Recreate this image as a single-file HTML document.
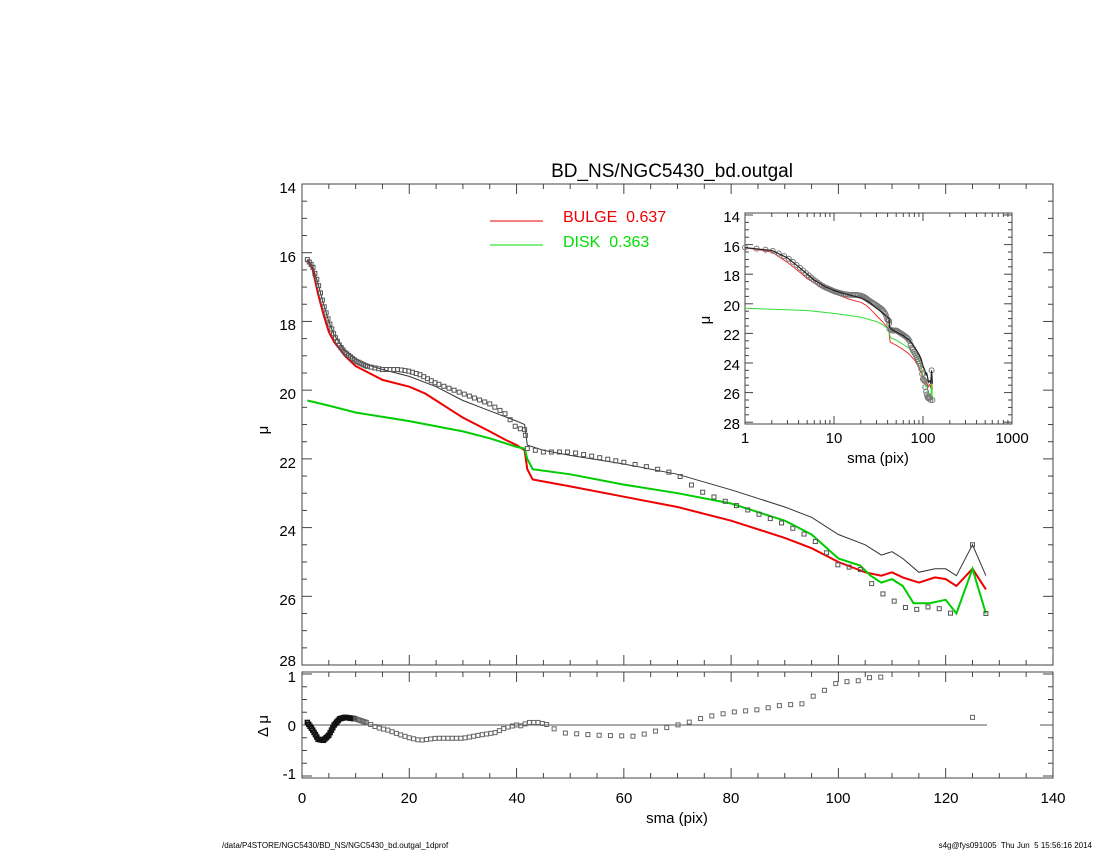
<!DOCTYPE html>
<html><head><meta charset="utf-8"><style>
body{margin:0;background:#fff;}
svg{display:block;font-family:"Liberation Sans",sans-serif;}
text{white-space:pre;}
</style></head><body>
<svg id="s" width="1100" height="850" viewBox="0 0 1100 850" xmlns="http://www.w3.org/2000/svg">
<rect width="1100" height="850" fill="#fff"/>
<text x="672" y="177" font-size="19" text-anchor="middle">BD_NS/NGC5430_bd.outgal</text>
<g id="main"></g>
<g font-size="15" text-anchor="end">
<text x="296" y="193">14</text><text x="296" y="262">16</text><text x="296" y="330">18</text>
<text x="296" y="399">20</text><text x="296" y="468">22</text><text x="296" y="536">24</text>
<text x="296" y="605">26</text><text x="296" y="666">28</text>
<text x="296" y="682">1</text><text x="296" y="731">0</text><text x="296" y="779">-1</text>
</g>
<g font-size="15" text-anchor="middle">
<text x="302" y="803">0</text><text x="409" y="803">20</text><text x="517" y="803">40</text>
<text x="624" y="803">60</text><text x="731" y="803">80</text><text x="838" y="803">100</text>
<text x="946" y="803">120</text><text x="1053" y="803">140</text>
<text x="677" y="823">sma (pix)</text>
</g>
<text x="268" y="430" font-size="15" text-anchor="middle" transform="rotate(-90 268 430)">μ</text>
<text x="268" y="726" font-size="15" text-anchor="middle" transform="rotate(-90 268 726)">Δ μ</text>
<line x1="490" y1="221" x2="543" y2="221" stroke="#e00" stroke-width="1"/>
<line x1="490" y1="245" x2="543" y2="245" stroke="#0d0" stroke-width="1"/>
<text x="563" y="222" font-size="16" fill="#e00" xml:space="preserve">BULGE  0.637</text>
<text x="563" y="247" font-size="16" fill="#0d0" xml:space="preserve">DISK  0.363</text>
<g font-size="15" text-anchor="end">
<text x="740" y="222">14</text><text x="740" y="252">16</text><text x="740" y="281">18</text>
<text x="740" y="311">20</text><text x="740" y="340">22</text><text x="740" y="370">24</text>
<text x="740" y="399">26</text><text x="740" y="429">28</text>
</g>
<g font-size="15" text-anchor="middle">
<text x="745" y="443">1</text><text x="834" y="443">10</text><text x="923" y="443">100</text><text x="1012" y="443">1000</text>
<text x="878" y="463">sma (pix)</text>
</g>
<text x="710" y="320" font-size="15" text-anchor="middle" transform="rotate(-90 710 320)">μ</text>
<text x="222" y="848" font-size="8">/data/P4STORE/NGC5430/BD_NS/NGC5430_bd.outgal_1dprof</text>
<text x="1092" y="848" font-size="8" text-anchor="end" xml:space="preserve">s4g@fys091005  Thu Jun  5 15:56:16 2014</text>
</svg>
<script>
var NS="http://www.w3.org/2000/svg",g=document.getElementById("main");
function el(t,a){var e=document.createElementNS(NS,t);for(var k in a)e.setAttribute(k,a[k]);g.appendChild(e);return e;}
var obs=[[1,16.2],[2,16.4],[3,16.9],[4,17.5],[5,18.0],[6,18.4],[7,18.7],[8,18.9],[10,19.15],[12,19.3],[15,19.4],[18,19.4],[20,19.45],[22,19.55],[25,19.8],[30,20.1],[35,20.4],[38,20.7],[40,21.1],[41.5,21.15],[42,21.7],[45,21.8],[50,21.8],[55,21.95],[60,22.1],[65,22.25],[70,22.45],[72,22.7],[75,23.0],[80,23.3],[85,23.6],[90,23.9],[95,24.3],[97,24.6],[100,25.1],[102,25.15],[104,25.2],[106,25.6],[108,25.9],[110,26.1],[112,26.3],[114,26.4],[117,26.3],[120,26.4],[122,26.6],[125,24.5],[127.5,26.5]];
var mod=[[1,16.2],[2,16.4],[3,16.9],[4,17.5],[5,18.0],[6,18.4],[8,18.85],[10,19.1],[12,19.25],[15,19.4],[20,19.6],[25,19.9],[30,20.3],[35,20.6],[40,20.9],[41.5,21.0],[42,21.6],[45,21.75],[50,21.9],[60,22.15],[70,22.45],[80,22.9],[90,23.4],[95,23.7],[100,24.2],[105,24.5],[108,24.8],[110,24.7],[112,24.9],[115,25.3],[118,25.2],[120,25.2],[122,25.4],[125,24.5],[127.5,25.4]];
var bul=[[1,16.2],[2,16.5],[3,17.2],[4,17.8],[5,18.3],[6,18.6],[8,19.0],[10,19.3],[15,19.7],[20,19.9],[23,20.1],[25,20.3],[28,20.6],[30,20.8],[35,21.2],[38,21.45],[40,21.6],[41.5,21.75],[42,22.3],[43,22.6],[50,22.8],[60,23.1],[70,23.4],[80,23.8],[90,24.3],[95,24.6],[100,25.0],[105,25.3],[108,25.4],[110,25.3],[112,25.45],[115,25.6],[118,25.45],[120,25.5],[122,25.7],[125,25.2],[127.5,25.8]];
var dsk=[[1,20.3],[5,20.45],[10,20.65],[20,20.9],[30,21.2],[35,21.4],[40,21.65],[41.5,21.7],[42,22.0],[43,22.3],[50,22.45],[60,22.75],[70,23.0],[80,23.3],[90,23.8],[95,24.2],[100,24.9],[102,25.0],[104,25.1],[106,25.4],[108,25.6],[110,25.5],[112,25.7],[114,26.2],[117,26.2],[120,26.1],[122,26.5],[125,25.2],[127.5,26.5]];
var res=[[1,0.05],[2,-0.1],[3,-0.28],[4,-0.3],[5,-0.2],[6,0],[7,0.12],[8,0.15],[10,0.12],[12,0.05],[14,-0.05],[16,-0.1],[18,-0.18],[20,-0.25],[22,-0.3],[25,-0.26],[30,-0.26],[33,-0.2],[36,-0.15],[38,-0.05],[40,0],[41,-0.02],[42,0.05],[44,0.05],[46,0],[48,-0.15],[55,-0.2],[62,-0.22],[65,-0.15],[68,-0.05],[70,0],[72,0.05],[75,0.15],[80,0.25],[85,0.3],[90,0.4],[93,0.4],[95,0.55],[97,0.65],[99,0.8],[101,0.85],[103,0.85],[105,0.9],[107,0.97],[109,0.9]];
function interp(d,x){for(var i=1;i<d.length;i++)if(x<=d[i][0]){var a=d[i-1],b=d[i];return a[1]+(b[1]-a[1])*(x-a[0])/(b[0]-a[0]);}return d[d.length-1][1];}
var X=function(x){return 302+5.364*x},Y=function(m){return 184+(m-14)*34.36},RY=function(r){return 725-r*51};
var IX=function(x){return 745+89*Math.log10(x)},IY=function(m){return 215+(m-14)*14.8};
function poly(d,fx,fy,c,w){el("polyline",{points:d.map(function(p){return fx(p[0]).toFixed(1)+","+fy(p[1]).toFixed(1)}).join(" "),fill:"none",stroke:c,"stroke-width":w});}
el("rect",{x:302,y:184,width:751,height:481,fill:"none",stroke:"#444","stroke-width":1});
el("rect",{x:302,y:672,width:751,height:106,fill:"none",stroke:"#444","stroke-width":1});
for(var x=0;x<=140;x+=5){var L=x%20==0?10:5,px=X(x);
el("line",{x1:px,y1:665,x2:px,y2:665-L,stroke:"#444"});el("line",{x1:px,y1:184,x2:px,y2:184+L,stroke:"#444"});
el("line",{x1:px,y1:778,x2:px,y2:778-L,stroke:"#444"});el("line",{x1:px,y1:672,x2:px,y2:672+L,stroke:"#444"});}
for(var m=14;m<=28;m+=0.5){var L=m%2==0?10:5;el("line",{x1:302,y1:Y(m),x2:302+L,y2:Y(m),stroke:"#444"});el("line",{x1:1053,y1:Y(m),x2:1053-L,y2:Y(m),stroke:"#444"});}
for(var r=-1;r<=1;r+=0.25){var L=r%1==0?10:5;el("line",{x1:302,y1:RY(r),x2:302+L,y2:RY(r),stroke:"#444"});el("line",{x1:1053,y1:RY(r),x2:1053-L,y2:RY(r),stroke:"#444"});}
el("line",{x1:302,y1:725,x2:987,y2:725,stroke:"#555"});el("line",{x1:1040,y1:725,x2:1053,y2:725,stroke:"#555"});
poly(mod,X,Y,"#333",1);poly(bul,X,Y,"#e00",2);poly(dsk,X,Y,"#0c0",2);
var xs=[];for(var x=1;x<42;x+=(x<12?0.35:(x<25?0.7:0.95)))xs.push(x);xs.push(41.5);for(var x=42;x<=122;x+=(x<60?1.5:2.1))xs.push(x);xs.push(125,127.5);
xs.forEach(function(x){var m=interp(obs,x);el("rect",{x:X(x)-2,y:Y(m)-2,width:4,height:4,fill:"none",stroke:"#555","stroke-width":1});});
var rxs=[];for(var x=1;x<=46;x+=(x<12?0.25:0.8))rxs.push(x);for(var x=47;x<=109;x+=2.1)rxs.push(x);
rxs.forEach(function(x){var r=interp(res,x);el("rect",{x:X(x)-2,y:RY(r)-2,width:4,height:4,fill:"none",stroke:x<10?"#111":"#666","stroke-width":x<10?1.5:1});});
el("rect",{x:X(125)-2,y:RY(0.15)-2,width:4,height:4,fill:"none",stroke:"#666"});
el("rect",{x:745,y:213,width:267,height:211,fill:"#fff",stroke:"#444"});
for(var d=1;d<1000;d*=10)for(var k=1;k<10;k++){var px=IX(d*k),L=k==1?8:4;el("line",{x1:px,y1:424,x2:px,y2:424-L,stroke:"#444"});el("line",{x1:px,y1:213,x2:px,y2:213+L,stroke:"#444"});}
for(var m=14;m<=28;m+=0.5){var L=m%2==0?8:4;el("line",{x1:745,y1:IY(m),x2:745+L,y2:IY(m),stroke:"#444"});el("line",{x1:1012,y1:IY(m),x2:1012-L,y2:IY(m),stroke:"#444"});}
poly(bul,IX,IY,"#e33",1);poly(dsk,IX,IY,"#3d3",1);
xs.forEach(function(x){el("circle",{cx:IX(x),cy:IY(interp(obs,x)),r:2.5,fill:"none",stroke:"#777","stroke-width":1});});
poly(mod,IX,IY,"#222",1.2);
</script>
</body></html>
